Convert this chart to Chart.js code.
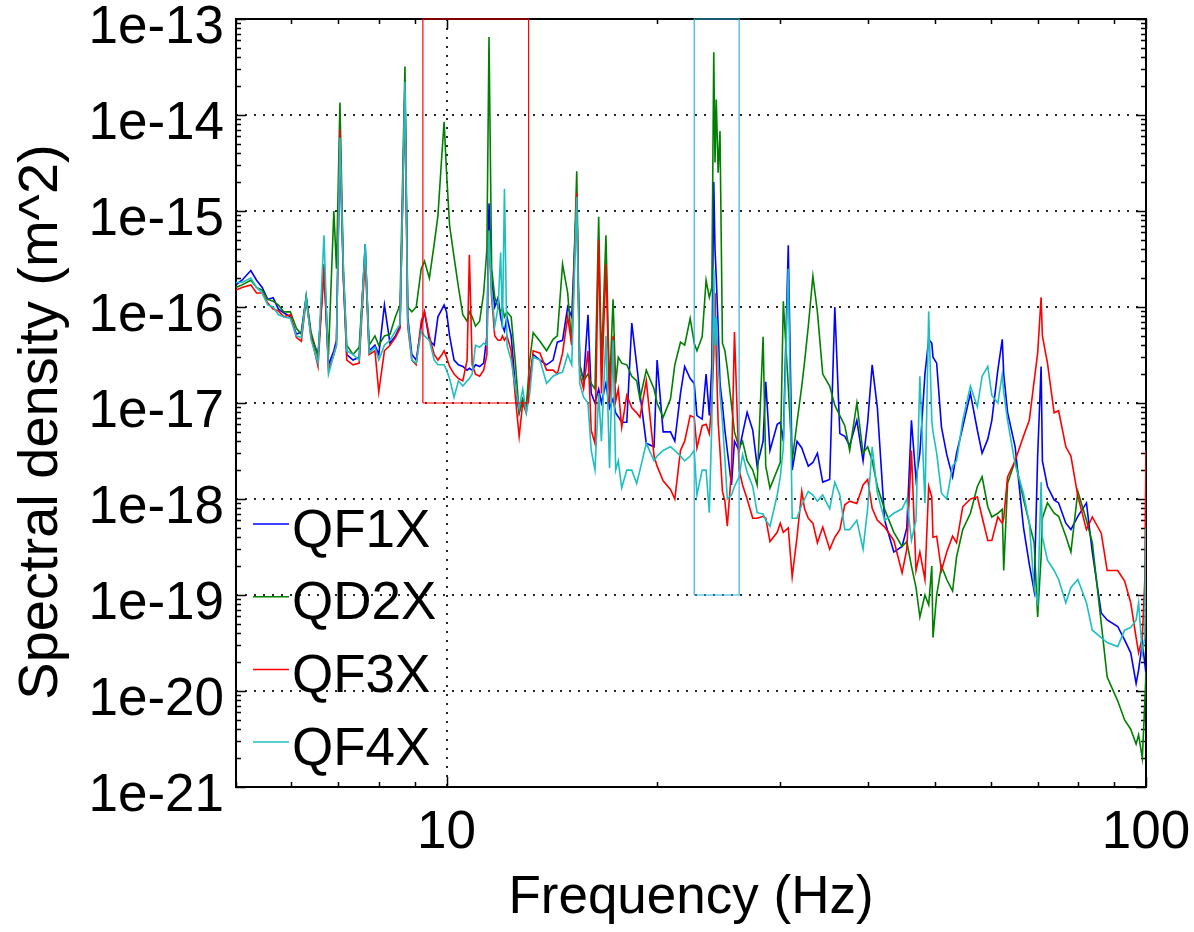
<!DOCTYPE html>
<html><head><meta charset="utf-8">
<script src="https://cdn.jsdelivr.net/npm/chart.js@4.4.1/dist/chart.umd.min.js"></script>
<style>html,body{margin:0;padding:0;background:#fff;}#wrap{width:1194px;height:932px;position:relative;}</style>
</head><body><div id="wrap"><canvas id="c" width="1194" height="932"></canvas></div>
<script>
const freqHz = [
5.00,5.10,5.25,5.35,5.45,5.55,5.65,5.75,5.85,5.98,
6.10,6.20,6.30,6.40,6.55,6.68,6.78,6.90,6.96,7.04,
7.12,7.20,7.35,7.50,7.65,7.75,7.90,8.00,8.15,8.30,
8.45,8.58,8.72,8.80,8.92,9.05,9.20,9.30,9.45,9.60,
9.72,9.85,9.92,10.00,10.10,10.25,10.40,10.55,10.70,10.78,
10.88,11.00,11.15,11.30,11.42,11.50,11.60,11.72,11.85,11.95,
12.02,12.10,12.20,12.37,12.55,12.70,12.85,13.00,13.15,13.30,
13.60,13.90,14.20,14.40,14.65,14.90,15.10,15.35,15.50,15.70,
15.93,16.10,16.30,16.50,16.65,16.90,17.10,17.30,17.45,17.60,
17.80,18.10,18.40,18.70,18.90,19.30,19.80,20.00,20.40,20.90,
21.20,21.60,21.90,22.30,22.60,22.80,23.20,23.50,23.75,23.95,
24.10,24.20,24.30,24.45,24.60,24.80,25.00,25.20,25.55,25.80,
26.20,26.50,26.90,27.40,27.80,28.35,28.60,29.00,29.70,30.00,
30.30,30.80,31.20,31.70,32.20,32.50,32.90,33.40,33.90,34.50,
35.30,35.90,36.50,37.10,37.70,38.60,39.40,40.00,40.60,41.30,
42.30,43.60,44.80,45.50,46.20,46.90,47.50,48.30,48.90,49.40,
49.60,50.20,51.00,51.90,52.90,53.60,54.70,56.10,57.40,58.30,
59.40,60.20,61.40,62.30,62.60,63.40,65.00,66.80,68.10,69.20,
70.00,70.80,71.10,72.30,73.90,75.00,76.80,78.10,79.90,82.20,
83.80,86.30,88.00,91.10,93.20,95.10,96.80,97.60,98.80,99.60,
100.0];

const qf1x = [
1.7e-16,1.9e-16,2.4e-16,1.9e-16,1.6e-16,1.2e-16,1.25e-16,9.5e-17,8.7e-17,7.9e-17,
5.2e-17,5.5e-17,1.26e-16,5.0e-17,3.2e-17,2.4e-16,2.5e-17,3.5e-17,4.5e-17,5.0e-15,
2.0e-16,3.2e-17,2.8e-17,3.0e-17,4.5e-16,3.5e-17,4.0e-17,3.2e-17,1.05e-16,4.2e-17,
5.0e-17,6.3e-17,1.8e-14,7.9e-17,3.2e-17,2.8e-17,6.3e-17,8.9e-17,4.5e-17,4.0e-17,
7.9e-17,9.5e-17,1.05e-16,8.9e-17,5.0e-17,2.8e-17,2.5e-17,2.4e-17,2.2e-17,2.3e-17,
2.2e-17,2.5e-17,2.4e-17,2.6e-17,5.0e-17,1.2e-15,2.0e-16,1.0e-16,1.26e-16,7.9e-17,
6.3e-17,5.6e-17,7.9e-17,5.0e-17,1.4e-17,7.9e-18,1.1e-17,8.9e-18,1.8e-17,3.2e-17,
2.8e-17,2.5e-17,2.8e-17,4.3e-17,4.5e-17,1.0e-16,7.9e-17,1.4e-15,2.5e-17,1.7e-17,
8.3e-17,1.26e-17,1.0e-17,1.4e-17,1.0e-17,1.6e-17,8.9e-18,1.1e-17,7.9e-18,7.2e-18,
6.3e-18,6.3e-18,6.8e-17,2.5e-17,1.26e-17,3.8e-18,3.5e-18,2.8e-17,5.0e-18,5.0e-18,
4.0e-18,1.26e-17,2.4e-17,1.8e-17,1.6e-17,7.4e-18,6.8e-18,2.0e-17,7.4e-18,2.5e-17,
2.0e-15,4.0e-16,2.0e-16,6.3e-17,1.6e-17,9.5e-18,5.2e-18,3.2e-18,1.4e-18,4.0e-18,
3.2e-18,4.8e-18,8.0e-18,5.2e-18,2.2e-18,4.0e-18,1.66e-17,3.2e-18,6.0e-18,6.3e-18,
4.0e-18,4.4e-16,2.0e-18,4.0e-18,3.4e-18,2.8e-18,2.2e-18,2.4e-18,3.0e-18,1.5e-18,
1.6e-18,1.0e-16,4.8e-18,4.5e-18,3.6e-18,6.6e-18,2.5e-18,6.3e-18,2.5e-17,8.9e-18,
6.0e-19,2.8e-19,3.2e-19,5.0e-19,6.6e-18,1.6e-18,3.0e-18,2.0e-17,4.6e-17,4.2e-17,
3.0e-17,2.6e-17,5.6e-18,2.9e-18,1.7e-18,3.0e-18,5.6e-18,1.26e-17,5.2e-18,3.0e-18,
4.2e-18,6.6e-18,2.2e-17,4.6e-17,2.0e-17,8.0e-18,3.5e-18,5.1e-19,2.1e-19,1.1e-19,
2.8e-18,2.4e-17,2.5e-18,1.35e-18,9.8e-19,9.1e-19,5.6e-19,4.8e-19,6.6e-19,9.1e-19,
2.8e-19,6.5e-20,5.5e-20,4.7e-20,3.4e-20,2.5e-20,1.2e-20,1.66e-20,3.2e-20,1.95e-20,
1.5e-20];

const qd2x = [
1.6e-16,1.7e-16,1.9e-16,1.6e-16,1.5e-16,1.2e-16,1.15e-16,1.05e-16,8.9e-17,8.9e-17,
6.0e-17,5.2e-17,1.3e-16,5.5e-17,3.0e-17,2.8e-16,3.2e-17,1.0e-15,2.5e-16,1.35e-14,
2.5e-16,4.0e-17,3.2e-17,3.8e-17,4.0e-16,4.0e-17,5.0e-17,4.0e-17,5.0e-17,5.2e-17,
7.9e-17,1.05e-16,3.2e-14,1.0e-16,8.9e-17,1.0e-16,2.5e-16,3.0e-16,2.0e-16,4.5e-16,
8.9e-16,4.0e-15,8.5e-15,2.5e-15,7.1e-16,3.3e-16,1.6e-16,8.3e-17,7.1e-17,8.9e-17,
7.9e-17,6.3e-17,7.1e-17,1.4e-16,4.0e-16,6.5e-14,2.5e-16,1.26e-16,1.0e-16,8.9e-17,
1.0e-16,7.9e-17,8.9e-17,7.9e-17,2.5e-17,7.9e-18,1.1e-17,8.9e-18,2.8e-17,5.4e-17,
4.4e-17,3.5e-17,4.6e-17,5.0e-17,2.8e-16,1.4e-16,4.0e-17,2.6e-15,2.5e-17,1.7e-17,
2.0e-17,1.6e-17,1.4e-17,8.7e-16,2.5e-17,5.6e-16,1.4e-17,1.2e-16,1.6e-17,3.0e-17,
2.6e-17,2.5e-17,1.9e-17,1.7e-17,1.1e-17,2.2e-17,1.4e-17,1.0e-17,7.1e-18,1.1e-17,
2.5e-17,4.3e-17,4.0e-17,7.6e-17,4.2e-17,3.5e-17,4.9e-17,1.9e-16,1.26e-16,1.6e-16,
4.5e-14,3.2e-15,1.45e-14,2.5e-15,6.8e-15,4.2e-17,3.5e-17,2.3e-17,9.5e-18,5.0e-18,
3.4e-18,4.0e-18,2.5e-18,2.0e-18,1.4e-18,4.9e-17,2.2e-18,1.3e-18,2.0e-18,2.4e-18,
1.15e-16,1.5e-17,2.5e-18,6.3e-18,1.5e-17,2.7e-17,6.3e-17,2.1e-16,8.9e-17,2.0e-17,
1.5e-17,9.5e-18,7.4e-18,5.8e-18,3.2e-18,1.0e-17,3.0e-18,3.5e-18,2.5e-18,1.35e-18,
7.8e-19,4.5e-19,3.2e-19,3.6e-19,2.0e-19,1.2e-19,5.9e-20,1.0e-19,7.9e-20,2.0e-19,
3.6e-20,1.0e-19,2.0e-19,1.45e-19,1.1e-19,2.5e-19,4.8e-19,7.1e-19,1.35e-18,1.7e-18,
8.3e-19,6.5e-19,7.1e-19,7.8e-19,1.8e-19,1.45e-18,2.5e-18,1.0e-18,5.6e-19,3.5e-19,
5.9e-20,2.5e-19,6.3e-19,9.1e-19,7.1e-19,6.6e-19,4.1e-19,2.8e-19,1.2e-18,6.0e-19,
3.5e-19,5.1e-20,1.4e-20,7.9e-21,5.0e-21,4.0e-21,2.8e-21,3.5e-21,2.0e-21,7.4e-21,
1.6e-20];

const qf3x = [
1.5e-16,1.6e-16,1.7e-16,1.4e-16,1.4e-16,1.1e-16,9.5e-17,9.1e-17,7.9e-17,8.3e-17,
4.8e-17,4.4e-17,1.2e-16,5.0e-17,2.4e-17,2.6e-16,2.2e-17,3.2e-17,4.0e-17,7.1e-15,
2.0e-16,2.8e-17,2.5e-17,2.6e-17,3.2e-16,3.2e-17,3.5e-17,1.3e-17,3.5e-17,4.0e-17,
4.8e-17,6.0e-17,2.0e-14,6.3e-17,2.8e-17,2.5e-17,7.1e-17,8.9e-17,5.0e-17,3.2e-17,
2.8e-17,3.2e-17,3.5e-17,3.0e-17,2.4e-17,2.0e-17,1.8e-17,1.7e-17,2.8e-17,3.5e-16,
2.5e-17,2.0e-17,1.9e-17,2.2e-17,3.2e-17,6.0e-16,1.26e-16,5.0e-17,4.5e-17,4.5e-17,
5.0e-17,4.5e-17,5.0e-17,3.5e-17,1.1e-17,4.5e-18,1.0e-17,7.9e-18,1.6e-17,3.5e-17,
3.3e-17,2.2e-17,2.2e-17,2.0e-17,3.3e-17,7.9e-17,4.0e-17,1.55e-15,2.0e-17,1.4e-17,
3.5e-17,5.2e-18,3.8e-18,5.0e-16,1.26e-17,2.8e-16,1.0e-17,5.0e-17,1.05e-17,1.4e-17,
5.6e-18,1.2e-17,8.9e-18,7.9e-18,7.1e-18,1.7e-17,2.8e-18,2.2e-18,1.55e-18,1.26e-18,
1.0e-18,3.2e-18,4.0e-18,7.4e-18,7.1e-18,3.4e-18,5.8e-18,6.0e-18,4.8e-18,1.0e-17,
3.2e-17,1.4e-16,3.2e-17,6.3e-18,3.2e-18,1.2e-18,9.5e-19,5.2e-19,2.0e-18,5.5e-17,
2.0e-18,1.4e-18,1.0e-18,6.3e-19,6.3e-19,6.6e-19,6.3e-19,3.6e-19,4.5e-19,5.6e-19,
4.5e-19,5.0e-19,1.55e-19,4.0e-19,1.2e-18,7.9e-19,6.3e-19,5.6e-19,3.5e-19,5.1e-19,
3.0e-19,4.0e-19,4.8e-19,8.7e-19,9.5e-19,9.0e-19,1.4e-18,1.6e-18,8.0e-19,6.0e-19,
5.1e-19,3.7e-19,1.7e-19,3.0e-19,3.2e-18,1.8e-19,2.8e-19,1.45e-19,1.35e-18,1.05e-18,
4.0e-19,4.1e-19,1.8e-19,2.8e-19,4.1e-19,3.5e-19,8.3e-19,1.0e-18,1.05e-18,6.5e-19,
3.7e-19,3.7e-19,6.5e-19,5.6e-19,6.3e-19,1.7e-18,2.5e-18,4.5e-18,6.6e-18,1.7e-17,
3.3e-17,1.26e-16,5.0e-17,2.6e-17,7.9e-18,8.3e-18,3.5e-18,2.8e-18,1.07e-18,4.8e-19,
6.5e-19,4.4e-19,1.8e-19,1.8e-19,1.4e-19,8.3e-20,3.6e-20,2.5e-20,3.6e-20,1.4e-19,
3.2e-18];

const qf4x = [
1.8e-16,1.8e-16,2.0e-16,1.6e-16,1.4e-16,1.05e-16,1.0e-16,8.3e-17,7.9e-17,7.6e-17,
5.0e-17,4.8e-17,1.26e-16,4.6e-17,2.6e-17,5.6e-16,2.0e-17,3.2e-17,4.0e-17,5.8e-15,
2.5e-16,3.5e-17,3.2e-17,2.8e-17,4.5e-16,3.3e-17,3.8e-17,2.8e-17,4.0e-17,4.5e-17,
5.6e-17,6.6e-17,2.2e-14,7.1e-17,2.8e-17,2.6e-17,5.6e-17,5.0e-17,4.5e-17,2.8e-17,
2.5e-17,2.5e-17,2.5e-17,2.2e-17,1.8e-17,1.15e-17,1.7e-17,1.5e-17,1.7e-17,1.8e-17,
2.0e-17,4.0e-17,3.8e-17,4.2e-17,4.0e-17,6.3e-16,1.4e-16,6.3e-17,1.0e-16,3.7e-16,
6.0e-17,1.7e-15,4.0e-17,2.8e-17,1.4e-17,8.9e-18,1.4e-17,7.9e-18,1.26e-17,3.0e-17,
2.8e-17,1.6e-17,1.9e-17,2.0e-17,2.1e-17,3.2e-17,2.5e-17,1.4e-15,1.6e-17,1.15e-17,
1.0e-17,3.2e-18,2.0e-18,1.26e-17,4.0e-18,5.0e-17,2.1e-18,4.5e-17,2.0e-18,2.5e-18,
1.3e-18,2.0e-18,2.0e-18,1.45e-18,2.0e-18,3.8e-18,2.5e-18,2.8e-18,3.2e-18,3.5e-18,
3.2e-18,2.8e-18,2.5e-18,2.8e-18,3.2e-18,1.1e-18,2.0e-18,2.0e-18,7.2e-19,6.3e-18,
2.5e-16,4.0e-17,7.9e-17,2.5e-17,1.26e-17,6.3e-18,2.6e-18,1.0e-18,1.1e-18,1.35e-18,
1.7e-18,2.9e-18,1.9e-18,1.35e-18,7.2e-19,7.0e-19,6.0e-19,5.2e-19,1.1e-18,1.7e-18,
3.4e-18,2.5e-16,6.3e-19,6.3e-19,8.7e-19,1.0e-18,1.2e-18,1.1e-18,9.5e-19,1.1e-18,
7.9e-19,1.5e-18,1.1e-18,4.8e-19,4.8e-19,6.0e-19,3.0e-19,8.0e-19,3.5e-18,1.15e-18,
6.0e-19,7.1e-19,7.9e-19,1.0e-18,3.7e-19,6.0e-19,1.9e-17,9.1e-19,9.0e-17,6.6e-18,
5.0e-18,3.0e-18,1.15e-18,1.0e-18,2.2e-18,2.5e-18,6.6e-18,1.5e-17,9.1e-18,1.9e-17,
2.4e-17,1.2e-17,1.0e-17,2.0e-17,1.3e-17,6.6e-18,2.3e-18,1.15e-18,5.6e-19,1.2e-19,
8.3e-20,1.5e-18,4.0e-19,2.3e-19,1.8e-19,1.45e-19,8.3e-20,1.2e-19,1.45e-19,8.3e-20,
4.3e-20,3.6e-20,3.2e-20,2.9e-20,4.3e-20,4.6e-20,5.5e-20,8.3e-20,2.5e-20,3.6e-20,
5.0e-19];

const seriesNames = ['QF1X', 'QD2X', 'QF3X', 'QF4X'];
const seriesColors = ['#0000ff', '#008000', '#ff0000', '#1fbfbf'];
const xTickLabels = [10, 100];
const yTickLabels = [1e-21, 1e-20, 1e-19, 1e-18, 1e-17, 1e-16, 1e-15, 1e-14, 1e-13];
const xTitle = 'Frequency (Hz)';
const yTitle = 'Spectral density (m^2)';
const redBandHz = [9.25, 13.1];
const redBandPsd = [1e-17, 1e-13];
const cyanBandHz = [22.6, 26.2];
const cyanBandPsd = [1e-19, 1e-13];

const FONT = "'Liberation Sans', Arial, Helvetica, sans-serif";
const seriesData = [qf1x, qd2x, qf3x, qf4x];

function toPoints(ys) { return freqHz.map((f, i) => ({x: f, y: ys[i]})); }
function boxPoints(hz, psd) {
  return [{x: hz[0], y: psd[0]}, {x: hz[0], y: psd[1]}, {x: hz[1], y: psd[1]}, {x: hz[1], y: psd[0]}, {x: hz[0], y: psd[0]}];
}
function isDecade(v) { const l = Math.log10(v); return Math.abs(l - Math.round(l)) < 1e-6; }

const datasets = seriesData.map((ys, i) => ({
  label: seriesNames[i], data: toPoints(ys), borderColor: seriesColors[i],
  borderWidth: 1.6, pointRadius: 0, tension: 0, order: 4 - i
}));
datasets.push({label: 'band1', data: boxPoints(redBandHz, redBandPsd), borderColor: '#ff0000', borderWidth: 1.2, pointRadius: 0, order: 0, clip: false});
datasets.push({label: 'band2', data: boxPoints(cyanBandHz, cyanBandPsd), borderColor: '#2fb4e4', borderWidth: 1.2, pointRadius: 0, order: 0, clip: false});

const framePlugin = {
  id: 'frame',
  beforeDatasetsDraw(chart) {
    const {ctx, chartArea: a, scales: {x, y}} = chart;
    ctx.save();
    ctx.strokeStyle = '#000';
    ctx.lineWidth = 1.5;
    ctx.beginPath();
    for (let d = Math.floor(Math.log10(x.min)); d <= Math.ceil(Math.log10(x.max)); d++) {
      for (let k = 1; k <= 9; k++) {
        const v = k * Math.pow(10, d);
        if (v < x.min - 1e-9 || v > x.max + 1e-9) continue;
        const px = Math.round(x.getPixelForValue(v)) + 0.5;
        const len = k === 1 ? 10 : 5;
        ctx.moveTo(px, a.bottom); ctx.lineTo(px, a.bottom - len);
        ctx.moveTo(px, a.top); ctx.lineTo(px, a.top + len);
      }
    }
    for (let d = -21; d <= -13; d++) {
      for (let k = 1; k <= 9; k++) {
        const v = k * Math.pow(10, d);
        if (v < y.min * 0.999 || v > y.max * 1.001) continue;
        const py = Math.round(y.getPixelForValue(v)) + 0.5;
        const len = k === 1 ? 10 : 5;
        ctx.moveTo(a.left, py); ctx.lineTo(a.left + len, py);
        ctx.moveTo(a.right, py); ctx.lineTo(a.right - len, py);
      }
    }
    ctx.stroke();
    ctx.lineWidth = 2;
    ctx.strokeRect(a.left, a.top, a.right - a.left, a.bottom - a.top);
    ctx.restore();
  },
  afterDraw(chart) {
    const {ctx, chartArea: a} = chart;
    ctx.save();
    ctx.fillStyle = '#000';
    // y-axis title
    ctx.save();
    ctx.translate(42, 422);
    ctx.rotate(-Math.PI / 2);
    ctx.font = '56px ' + FONT;
    ctx.textAlign = 'center';
    ctx.textBaseline = 'middle';
    ctx.fillText(yTitle, 0, 0);
    ctx.restore();
    // legend
    ctx.font = '53px ' + FONT;
    ctx.textBaseline = 'middle';
    ctx.textAlign = 'left';
    for (let i = 0; i < seriesNames.length; i++) {
      const ly = a.bottom - 263 + i * 72.7;
      ctx.strokeStyle = seriesColors[i];
      ctx.lineWidth = 1.5;
      ctx.beginPath();
      ctx.moveTo(a.left + 17, ly); ctx.lineTo(a.left + 53, ly);
      ctx.stroke();
      ctx.fillStyle = '#000';
      ctx.fillText(chart.data.datasets[i].label, a.left + 56, ly + 8);
    }
    ctx.restore();
  }
};

new Chart(document.getElementById('c'), {
  type: 'line',
  data: {datasets},
  plugins: [framePlugin],
  options: {
    responsive: false, animation: false, devicePixelRatio: 1, events: [],
    layout: {padding: {top: 19, right: 48, bottom: 0, left: 0}},
    plugins: {legend: {display: false}, tooltip: {enabled: false}},
    scales: {
      x: {
        type: 'logarithmic', min: 5, max: 100, position: 'bottom',
        afterFit(s) { s.height = 145; s.paddingLeft = 0; s.paddingRight = 0; },
        grid: {color: c => (c.tick && Math.abs(c.tick.value - 10) < 1e-9) ? 'rgba(0,0,0,0.85)' : 'rgba(0,0,0,0)', lineWidth: 2, drawTicks: false},
        border: {display: false, dash: [2, 7]},
        ticks: {autoSkip: false, maxRotation: 0, minRotation: 0, padding: 15, color: '#000', font: {size: 53, family: FONT},
          callback: v => { const t = xTickLabels.find(t => Math.abs(t - v) < 1e-9); return t ? String(t) : ''; }},
        title: {display: true, text: xTitle, color: '#000', font: {size: 53, family: FONT}, padding: {top: 0, bottom: 2}}
      },
      y: {
        type: 'logarithmic', min: 1e-21, max: 1e-13, position: 'left',
        afterFit(s) { s.width = 236; s.paddingTop = 0; s.paddingBottom = 0; },
        grid: {color: c => (c.tick && isDecade(c.tick.value)) ? 'rgba(0,0,0,0.85)' : 'rgba(0,0,0,0)', lineWidth: 2, drawTicks: false},
        border: {display: false, dash: [2, 7]},
        ticks: {autoSkip: false, padding: 12, labelOffset: 9, color: '#000', font: {size: 53, family: FONT},
          callback: v => { const t = yTickLabels.find(t => Math.abs(v / t - 1) < 1e-6); return t ? t.toExponential(0) : ''; }},
        title: {display: false}
      }
    }
  }
});
</script>
</body></html>
